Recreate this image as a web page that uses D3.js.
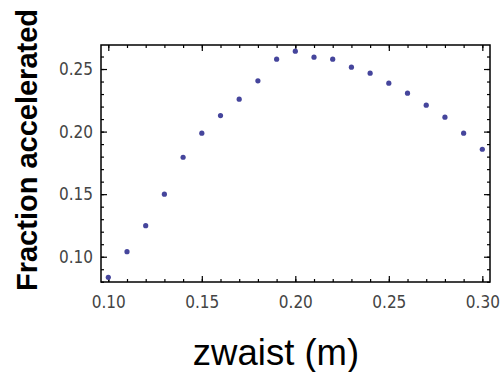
<!DOCTYPE html>
<html>
<head>
<meta charset="utf-8">
<script src="https://cdn.jsdelivr.net/npm/d3@7"></script>
<style>
  html, body { margin: 0; padding: 0; background: #fff; }
  svg { display: block; }
</style>
</head>
<body>
<svg id="chart" width="501" height="372"></svg>
<script>
// Waist position (m) and the fraction of particles accelerated at each one
const zwaist = [0.10, 0.11, 0.12, 0.13, 0.14, 0.15, 0.16, 0.17, 0.18, 0.19, 0.20,
                0.21, 0.22, 0.23, 0.24, 0.25, 0.26, 0.27, 0.28, 0.29, 0.30];
const fraction = [0.0835, 0.1040, 0.1248, 0.1500, 0.1795, 0.1987, 0.2128, 0.2259, 0.2406, 0.2579, 0.2643,
                  0.2595, 0.2579, 0.2515, 0.2467, 0.2387, 0.2307, 0.2211, 0.2115, 0.1987, 0.1859];

const xMajor = [0.10, 0.15, 0.20, 0.25, 0.30];
const yMajor = [0.10, 0.15, 0.20, 0.25];
const xMinor = d3.range(10, 31).map(v => v / 100);
const yMinor = d3.range(8, 27).map(v => v / 100);

const xTitle = "zwaist (m)";
const yTitle = "Fraction accelerated";

const svg = d3.select("#chart");
const frame = { left: 101, right: 490, top: 45, bottom: 282 };

const x = d3.scaleLinear().domain([0.0961, 0.3041]).range([frame.left, frame.right]);
const y = d3.scaleLinear().domain([0.0798, 0.2692]).range([frame.bottom, frame.top]);

const tickFont = "'DejaVu Sans Condensed', 'DejaVu Sans', sans-serif";
const fmt = d3.format(".2f");

// Frame-style axes: ticks point inward on all four sides, labels on left and bottom only
function frameAxis(axisFn, scale, transform, labelled, padding) {
  const major = axisFn(scale).tickValues(labelled).tickSize(-6).tickPadding(padding).tickFormat(fmt);
  const g = svg.append("g").attr("transform", transform).call(major);
  g.select(".domain").remove();
  g.selectAll("text").style("font-family", tickFont).style("font-size", "17px").attr("fill", "#444");
  g.selectAll("line").attr("stroke", "#000").attr("stroke-width", 1.2);
  return g;
}

function bareAxis(axisFn, scale, transform, values, size) {
  const g = svg.append("g").attr("transform", transform)
    .call(axisFn(scale).tickValues(values).tickSize(size).tickFormat(""));
  g.select(".domain").remove();
  g.selectAll("line").attr("stroke", "#000").attr("stroke-width", 1.2);
  return g;
}

// Minor ticks
bareAxis(d3.axisBottom, x, `translate(0,${frame.bottom})`, xMinor, -3);
bareAxis(d3.axisTop, x, `translate(0,${frame.top})`, xMinor, -3);
bareAxis(d3.axisLeft, y, `translate(${frame.left},0)`, yMinor, -3);
bareAxis(d3.axisRight, y, `translate(${frame.right},0)`, yMinor, -3);

// Major ticks with labels
frameAxis(d3.axisBottom, x, `translate(0,${frame.bottom})`, xMajor, 14);
frameAxis(d3.axisLeft, y, `translate(${frame.left},0)`, yMajor, 8);
bareAxis(d3.axisTop, x, `translate(0,${frame.top})`, xMajor, -6);
bareAxis(d3.axisRight, y, `translate(${frame.right},0)`, yMajor, -6);

// Plot frame
svg.append("rect")
  .attr("x", frame.left).attr("y", frame.top)
  .attr("width", frame.right - frame.left).attr("height", frame.bottom - frame.top)
  .attr("fill", "none").attr("stroke", "#000").attr("stroke-width", 1.5);

// Data points
svg.append("g").selectAll("circle")
  .data(zwaist.map((z, i) => [z, fraction[i]]))
  .join("circle")
  .attr("cx", d => x(d[0]))
  .attr("cy", d => y(d[1]))
  .attr("r", 2.6)
  .attr("fill", "#45459c");

// Axis titles
svg.append("text")
  .attr("x", 276).attr("y", 365)
  .attr("text-anchor", "middle")
  .style("font-family", "'Liberation Sans', Arial, sans-serif")
  .style("font-size", "36.5px")
  .attr("fill", "#000")
  .text(xTitle);

svg.append("text")
  .attr("transform", "translate(37,150) rotate(-90)")
  .attr("text-anchor", "middle")
  .style("font-family", "'Liberation Sans', Arial, sans-serif")
  .style("font-size", "29px")
  .style("font-weight", "bold")
  .attr("fill", "#000")
  .text(yTitle);
</script>
</body>
</html>
